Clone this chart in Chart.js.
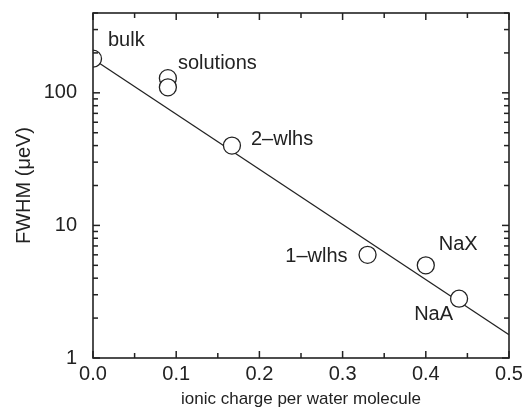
<!DOCTYPE html>
<html>
<head>
<meta charset="utf-8">
<script src="https://cdn.jsdelivr.net/npm/chart.js@4/dist/chart.umd.min.js"></script>
<style>
  html, body { margin: 0; padding: 0; background: #fff; }
  #wrap { width: 523px; height: 414px; position: relative; }
</style>
</head>
<body>
<div id="wrap"><canvas id="fwhmChart"></canvas></div>
<script>
// data
const chargeX = [0, 0.09, 0.09, 0.167, 0.33, 0.40, 0.44];
const fwhmY = [181, 129, 110, 40, 6.0, 5.0, 2.8];
const pointNames = ['bulk', 'solutions', '', '2\u2013wlhs', '1\u2013wlhs', 'NaX', 'NaA'];
const fitX = [0, 0.5];
const fitY = [180, 1.5];
const xTickLabels = ['0.0', '0.1', '0.2', '0.3', '0.4', '0.5'];
const yTickLabels = ['1', '10', '100'];

const INK = '#222';
const FONT = "'Liberation Sans', Arial, Helvetica, sans-serif";

// label offsets from point centre (px), and alignment
const labelPlace = [
  { dx: 15, dy: -18, align: 'left' },
  { dx: 10, dy: -15, align: 'left' },
  null,
  { dx: 19, dy: -6, align: 'left' },
  { dx: -20, dy: 2, align: 'right' },
  { dx: 13, dy: -21, align: 'left' },
  { dx: -6, dy: 16, align: 'right' }
];

// frame + inward ticks on all four sides
const framePlugin = {
  id: 'frameTicks',
  afterDraw(chart) {
    const { ctx, chartArea: a, scales: { x, y } } = chart;
    ctx.save();
    ctx.fillStyle = INK;
    const w = 1.5;
    // x: major at labels, minor halfway between
    const xMajor = xTickLabels.map(parseFloat);
    xMajor.forEach((v, i) => {
      const px = x.getPixelForValue(v);
      ctx.fillRect(px - w / 2, a.bottom - 7, w, 7);
      ctx.fillRect(px - w / 2, a.top, w, 7);
      if (i < xMajor.length - 1) {
        const mx = x.getPixelForValue((v + xMajor[i + 1]) / 2);
        ctx.fillRect(mx - w / 2, a.bottom - 5, w, 5);
        ctx.fillRect(mx - w / 2, a.top, w, 5);
      }
    });
    // y: decades major, 2..9 minor
    yTickLabels.map(Number).forEach(d => {
      for (let m = 1; m <= 9; m++) {
        const v = d * m;
        if (v > y.max) break;
        const py = y.getPixelForValue(v);
        const len = m === 1 ? 7 : 5;
        ctx.fillRect(a.left, py - w / 2, len, w);
        ctx.fillRect(a.right - len, py - w / 2, len, w);
      }
    });
    ctx.strokeStyle = INK;
    ctx.lineWidth = 1.6;
    ctx.strokeRect(a.left, a.top, a.right - a.left, a.bottom - a.top);
    ctx.restore();
  }
};

// point labels
const labelPlugin = {
  id: 'pointNames',
  afterDatasetsDraw(chart) {
    const { ctx, scales: { x, y } } = chart;
    ctx.save();
    ctx.fillStyle = INK;
    ctx.font = '20px ' + FONT;
    ctx.textBaseline = 'middle';
    pointNames.forEach((name, i) => {
      const p = labelPlace[i];
      if (!name || !p) return;
      ctx.textAlign = p.align;
      ctx.fillText(name, x.getPixelForValue(chargeX[i]) + p.dx, y.getPixelForValue(fwhmY[i]) + p.dy);
    });
    ctx.restore();
  }
};

new Chart(document.getElementById('fwhmChart'), {
  type: 'scatter',
  data: {
    datasets: [
      {
        label: 'data',
        data: chargeX.map((v, i) => ({ x: v, y: fwhmY[i] })),
        pointRadius: 8.5,
        pointBackgroundColor: '#fff',
        pointBorderColor: INK,
        pointBorderWidth: 1.3,
        order: 0
      },
      {
        label: 'fit',
        type: 'line',
        data: fitX.map((v, i) => ({ x: v, y: fitY[i] })),
        borderColor: INK,
        borderWidth: 1.2,
        pointRadius: 0,
        fill: false,
        order: 1
      }
    ]
  },
  options: {
    responsive: true,
    maintainAspectRatio: false,
    animation: false,
    layout: { padding: { left: 0, right: 14, top: 13, bottom: 0 } },
    plugins: { legend: { display: false }, tooltip: { enabled: false } },
    scales: {
      x: {
        type: 'linear',
        min: 0,
        max: 0.5,
        grid: { display: false, drawTicks: false },
        border: { display: false },
        ticks: {
          stepSize: 0.1,
          padding: 4,
          color: INK,
          font: { family: FONT, size: 20 },
          maxRotation: 0,
          callback: v => xTickLabels.find(l => Math.abs(parseFloat(l) - v) < 1e-6) || ''
        },
        title: {
          display: true,
          text: 'ionic charge per water molecule',
          color: INK,
          font: { family: FONT, size: 17 },
          padding: { top: 0, bottom: 4 }
        },
        afterFit: s => { s.height = 56; s.paddingLeft = 0; s.paddingRight = 0; }
      },
      y: {
        type: 'logarithmic',
        min: 1,
        max: 400,
        grid: { display: false, drawTicks: false },
        border: { display: false },
        ticks: {
          autoSkip: false,
          padding: 16,
          color: INK,
          font: { family: FONT, size: 20 },
          callback: v => yTickLabels.includes(String(v)) ? String(v) : ''
        },
        title: {
          display: true,
          text: 'FWHM (\u03bceV)',
          color: INK,
          font: { family: FONT, size: 20 },
          padding: { top: 12, bottom: 0 }
        },
        afterFit: s => { s.width = 93; s.paddingTop = 0; s.paddingBottom = 0; }
      }
    }
  },
  plugins: [framePlugin, labelPlugin]
});
</script>
</body>
</html>
